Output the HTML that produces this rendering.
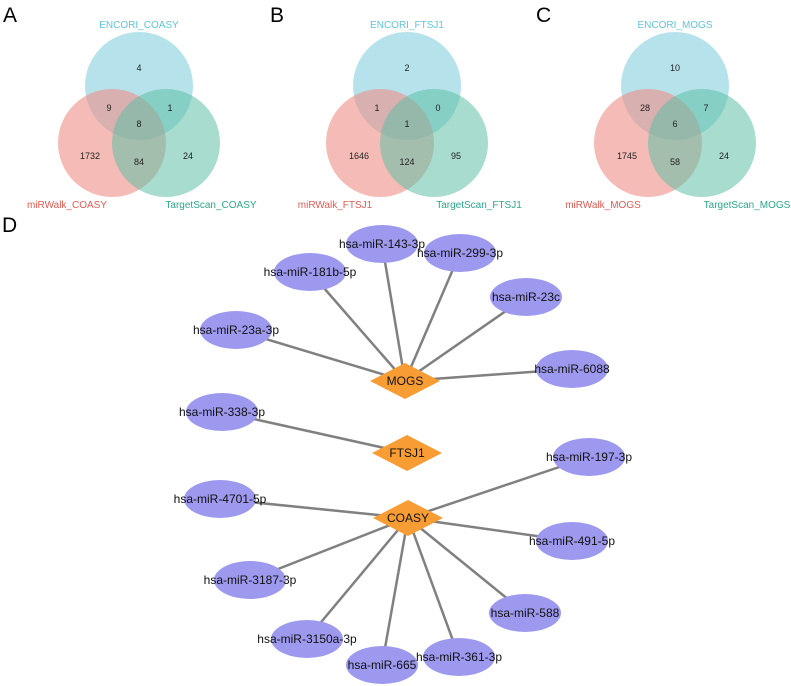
<!DOCTYPE html>
<html><head><meta charset="utf-8"><style>
html,body{margin:0;padding:0;background:#fff;}
svg{display:block;font-family:"Liberation Sans",Arial,sans-serif;}
</style></head><body>
<svg width="791" height="686" viewBox="0 0 791 686" xmlns="http://www.w3.org/2000/svg">
<defs>
<g id="venn">
  <circle cx="139" cy="86" r="54" fill="#a9dde8" opacity="0.85"/>
  <circle cx="112" cy="143" r="54" fill="#ef8f87" opacity="0.6"/>
  <circle cx="166" cy="143" r="54" fill="#5fc0a6" opacity="0.55"/>
</g>
</defs>
<g font-size="21" fill="#000">
<text x="3" y="22">A</text><text x="270" y="22">B</text><text x="536" y="22">C</text><text x="2" y="232">D</text>
</g>
<g>
<use href="#venn"/>
<g transform="translate(268,0)"><use href="#venn"/></g>
<g transform="translate(536,0)"><use href="#venn"/></g>
</g>
<g font-size="9" fill="#222" text-anchor="middle">
<text x="139" y="71">4</text><text x="109" y="111">9</text><text x="170" y="111">1</text><text x="139" y="127">8</text><text x="90" y="159">1732</text><text x="139" y="165">84</text><text x="188" y="159">24</text>
<text x="407" y="71">2</text><text x="377" y="111">1</text><text x="438" y="111">0</text><text x="407" y="127">1</text><text x="359" y="159">1646</text><text x="407" y="165">124</text><text x="456" y="159">95</text>
<text x="675" y="71">10</text><text x="645" y="111">28</text><text x="706" y="111">7</text><text x="675" y="127">6</text><text x="627" y="159">1745</text><text x="675" y="165">58</text><text x="724" y="159">24</text>
</g>
<g font-size="10" text-anchor="middle">
<text x="139" y="28" fill="#5fc5d8">ENCORI_COASY</text>
<text x="67" y="208" fill="#e05a52">miRWalk_COASY</text>
<text x="211" y="208" fill="#2aa78a">TargetScan_COASY</text>
<text x="407" y="28" fill="#5fc5d8">ENCORI_FTSJ1</text>
<text x="335" y="208" fill="#e05a52">miRWalk_FTSJ1</text>
<text x="479" y="208" fill="#2aa78a">TargetScan_FTSJ1</text>
<text x="675" y="28" fill="#5fc5d8">ENCORI_MOGS</text>
<text x="603" y="208" fill="#e05a52">miRWalk_MOGS</text>
<text x="747" y="208" fill="#2aa78a">TargetScan_MOGS</text>
</g>
<g stroke="#808080" stroke-width="2.5">
<line x1="382" y1="244" x2="405" y2="381"/><line x1="460" y1="253" x2="405" y2="381"/>
<line x1="310" y1="272" x2="405" y2="381"/><line x1="526" y1="297" x2="405" y2="381"/>
<line x1="236" y1="330" x2="405" y2="381"/><line x1="572" y1="369" x2="405" y2="381"/>
<line x1="222" y1="412" x2="407" y2="453"/>
<line x1="589" y1="457" x2="408" y2="518"/><line x1="220" y1="499" x2="408" y2="518"/>
<line x1="572" y1="541" x2="408" y2="518"/><line x1="250" y1="580" x2="408" y2="518"/>
<line x1="525" y1="613" x2="408" y2="518"/><line x1="307" y1="639" x2="408" y2="518"/>
<line x1="382" y1="665" x2="408" y2="518"/><line x1="459" y1="657" x2="408" y2="518"/>
</g>
<g fill="#9d99ef">
<ellipse cx="382" cy="244" rx="36" ry="19"/><ellipse cx="460" cy="253" rx="36" ry="19"/>
<ellipse cx="310" cy="272" rx="36" ry="19"/><ellipse cx="526" cy="297" rx="36" ry="19"/>
<ellipse cx="236" cy="330" rx="36" ry="19"/><ellipse cx="572" cy="369" rx="36" ry="19"/>
<ellipse cx="222" cy="412" rx="36" ry="19"/><ellipse cx="589" cy="457" rx="36" ry="19"/>
<ellipse cx="220" cy="499" rx="36" ry="19"/><ellipse cx="572" cy="541" rx="36" ry="19"/>
<ellipse cx="250" cy="580" rx="36" ry="19"/><ellipse cx="525" cy="613" rx="36" ry="19"/>
<ellipse cx="307" cy="639" rx="36" ry="19"/><ellipse cx="382" cy="665" rx="36" ry="19"/>
<ellipse cx="459" cy="657" rx="36" ry="19"/>
</g>
<g fill="#f89c34">
<polygon points="370,381 405,363 440,381 405,399"/>
<polygon points="372,453 407,435 442,453 407,471"/>
<polygon points="373,518 408,500 443,518 408,536"/>
</g>
<g font-size="12" fill="#111" text-anchor="middle">
<text x="382" y="248">hsa-miR-143-3p</text><text x="460" y="257">hsa-miR-299-3p</text>
<text x="310" y="276">hsa-miR-181b-5p</text><text x="526" y="301">hsa-miR-23c</text>
<text x="236" y="334">hsa-miR-23a-3p</text><text x="572" y="373">hsa-miR-6088</text>
<text x="222" y="416">hsa-miR-338-3p</text><text x="589" y="461">hsa-miR-197-3p</text>
<text x="220" y="503">hsa-miR-4701-5p</text><text x="572" y="545">hsa-miR-491-5p</text>
<text x="250" y="584">hsa-miR-3187-3p</text><text x="525" y="617">hsa-miR-588</text>
<text x="307" y="643">hsa-miR-3150a-3p</text><text x="382" y="669">hsa-miR-665</text>
<text x="459" y="661">hsa-miR-361-3p</text>
<text x="405" y="385">MOGS</text><text x="407" y="457">FTSJ1</text><text x="408" y="522">COASY</text>
</g>
</svg>
</body></html>
